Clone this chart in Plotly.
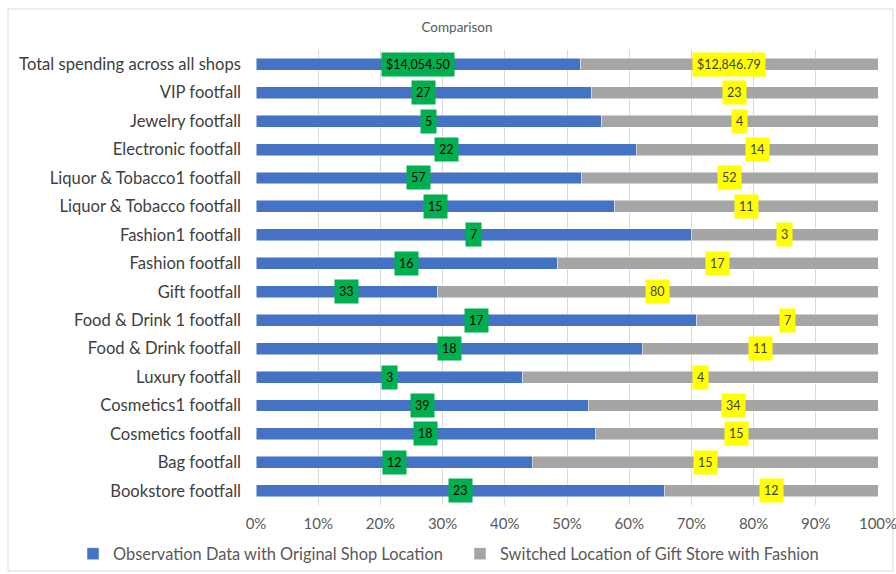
import plotly.graph_objects as go

# Rows, listed top to bottom
categories = [
    "Total spending across all shops",
    "VIP footfall",
    "Jewelry footfall",
    "Electronic footfall",
    "Liquor & Tobacco1 footfall",
    "Liquor & Tobacco footfall",
    "Fashion1 footfall",
    "Fashion footfall",
    "Gift footfall",
    "Food & Drink 1 footfall",
    "Food & Drink footfall",
    "Luxury footfall",
    "Cosmetics1 footfall",
    "Cosmetics footfall",
    "Bag footfall",
    "Bookstore footfall",
]
original = [14054.50, 27, 5, 22, 57, 15, 7, 16, 33, 17, 18, 3, 39, 18, 12, 23]
switched = [12846.79, 23, 4, 14, 52, 11, 3, 17, 80, 7, 11, 4, 34, 15, 15, 12]

series_names = [
    "Observation Data with Original Shop Location",
    "Switched Location of Gift Store with Fashion",
]
tick_vals = [0, 10, 20, 30, 40, 50, 60, 70, 80, 90, 100]
tick_text = ["0%", "10%", "20%", "30%", "40%", "50%", "60%", "70%", "80%", "90%", "100%"]

BLUE = "#4472C4"
GREY = "#A5A5A5"
FONT = "Lato, Carlito, Calibri, sans-serif"
W, H = 896, 574


def fmt(v, money):
    return f"${v:,.2f}" if money else f"{v:g}"


fig = go.Figure()
fig.add_trace(go.Bar(
    y=categories, x=original, orientation="h", name=series_names[0],
    marker=dict(color=BLUE, line=dict(color="rgba(255,255,255,0.6)", width=0.8)),
    legend="legend", showlegend=True,
))
fig.add_trace(go.Bar(
    y=categories, x=switched, orientation="h", name=series_names[1],
    marker=dict(color=GREY, line=dict(color="rgba(255,255,255,0.6)", width=0.8)),
    legend="legend2", showlegend=True,
))

# Value labels centred on each segment
for i, (cat, a, b) in enumerate(zip(categories, original, switched)):
    share = a / (a + b) * 100
    money = i == 0
    fig.add_annotation(
        x=share / 2, y=cat, text=fmt(a, money), showarrow=False,
        bgcolor="#00B050", borderpad=4,
        font=dict(family=FONT, size=12.5, color="#000000"),
    )
    fig.add_annotation(
        x=share + (100 - share) / 2, y=cat, text=fmt(b, money), showarrow=False,
        bgcolor="#FFFF00", borderpad=4,
        font=dict(family=FONT, size=12.5, color="#404040"),
    )

legend_style = dict(
    orientation="h", xref="container", yref="container",
    xanchor="left", yanchor="middle", y=1 - 554 / H,
    font=dict(family=FONT, size=16.4, color="#595959"),
    bgcolor="rgba(0,0,0,0)", itemwidth=30, visible=True,
)

fig.update_layout(
    showlegend=True,
    barmode="stack",
    barnorm="percent",
    bargap=0.58,
    width=W, height=H,
    margin=dict(l=256, r=18, t=50, b=69, autoexpand=False),
    paper_bgcolor="white",
    plot_bgcolor="white",
    font=dict(family=FONT, color="#595959"),
    title=dict(text="Comparison", x=457 / W, xanchor="center", y=1 - 27 / H, yanchor="middle",
               font=dict(family=FONT, size=13.5, color="#595959")),
    xaxis=dict(
        range=[0, 100], tickvals=tick_vals, ticktext=tick_text,
        showgrid=True, gridcolor="#D9D9D9", gridwidth=1,
        zeroline=False, showline=False, ticks="",
        ticklabelstandoff=8, ticklabeloverflow="allow",
        tickfont=dict(family=FONT, size=15, color="#595959"),
        fixedrange=True,
    ),
    yaxis=dict(
        autorange="reversed", showgrid=False, ticks="",
        ticklabelstandoff=14,
        tickfont=dict(family=FONT, size=16.6, color="#404040"),
        fixedrange=True,
    ),
    legend=dict(x=73 / W, **legend_style),
    legend2=dict(x=460 / W, **legend_style),
    shapes=[dict(
        type="rect", xref="paper", yref="paper",
        x0=-248 / 622, x1=1 + 15 / 622, y0=-66 / 455, y1=1 + 41 / 455,
        line=dict(color="#D9D9D9", width=1), fillcolor="rgba(0,0,0,0)", layer="below",
    )],
)

fig.write_html("out.html")
